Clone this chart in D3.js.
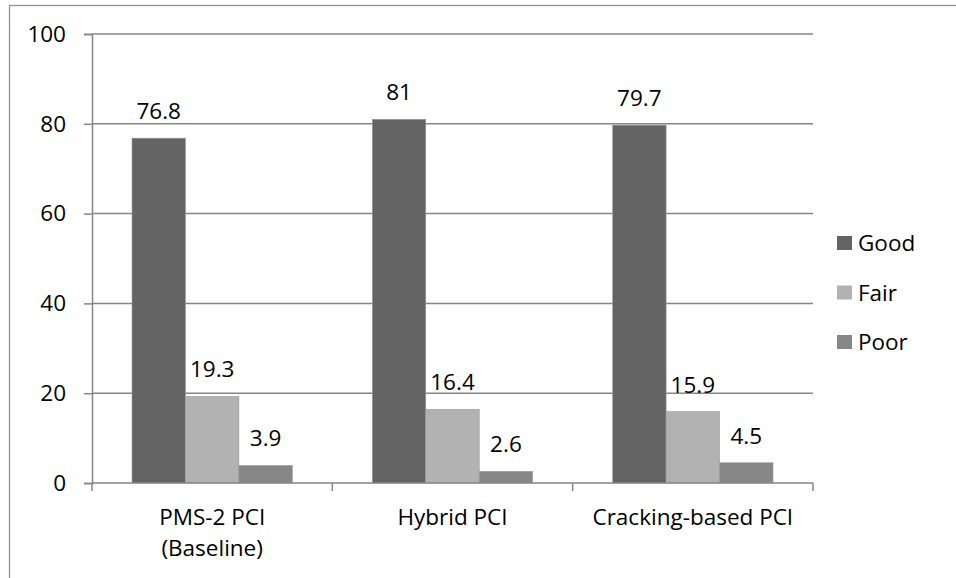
<!DOCTYPE html>
<html>
<head>
<meta charset="utf-8">
<script src="https://cdn.jsdelivr.net/npm/d3@7"></script>
<style>
  html, body { margin: 0; padding: 0; background: #fff; }
  svg { display: block; }
  text { font-family: "Open Sans", "Noto Sans", sans-serif; fill: #000; }
</style>
</head>
<body>
<svg id="chart" width="956" height="578"></svg>
<script>
// PCI condition distribution (%) by method
const categories = [["PMS-2 PCI", "(Baseline)"], ["Hybrid PCI"], ["Cracking-based PCI"]];
const seriesNames = ["Good", "Fair", "Poor"];
const good = [76.8, 81, 79.7];
const fair = [19.3, 16.4, 15.9];
const poor = [3.9, 2.6, 4.5];
const yTicks = [0, 20, 40, 60, 80, 100];
const seriesColors = ["#646464", "#b2b2b2", "#878787"];

const seriesValues = [good, fair, poor];
const fontSize = 22.5;
const svg = d3.select("#chart");

// outer frame (extends past the right and bottom edges of the canvas)
svg.append("rect")
  .attr("x", 9.5).attr("y", 5.5)
  .attr("width", 960).attr("height", 600)
  .attr("fill", "none").attr("stroke", "#8c8c8c").attr("stroke-width", 1.2);

const plot = { left: 92, right: 813, top: 34, bottom: 483 };

const x0 = d3.scaleBand()
  .domain(d3.range(categories.length))
  .range([plot.left, plot.right])
  .paddingInner(0).paddingOuter(0);

const groupPad = 40;
const x1 = d3.scaleBand()
  .domain(d3.range(seriesNames.length))
  .range([groupPad, x0.bandwidth() - groupPad]);

const y = d3.scaleLinear().domain([0, 100]).range([plot.bottom, plot.top]);

const gridColor = "#868686";

// horizontal gridlines
svg.append("g")
  .selectAll("line")
  .data(yTicks.filter(d => d > 0))
  .join("line")
  .attr("x1", plot.left).attr("x2", plot.right)
  .attr("y1", d => y(d)).attr("y2", d => y(d))
  .attr("stroke", gridColor).attr("stroke-width", 1.5);

// bars
const groups = svg.append("g")
  .selectAll("g")
  .data(categories.map((c, i) => i))
  .join("g")
  .attr("transform", i => `translate(${x0(i)},0)`);

groups.selectAll("rect")
  .data(i => seriesValues.map((vals, s) => ({ s, v: vals[i] })))
  .join("rect")
  .attr("x", d => x1(d.s))
  .attr("width", x1.bandwidth())
  .attr("y", d => y(d.v))
  .attr("height", d => y(0) - y(d.v))
  .attr("fill", d => seriesColors[d.s])
  .attr("stroke", "#9a9a9a").attr("stroke-width", 0.6);

// value labels
groups.selectAll("text")
  .data(i => seriesValues.map((vals, s) => ({ s, v: vals[i] })))
  .join("text")
  .attr("x", d => x1(d.s) + x1.bandwidth() / 2)
  .attr("y", d => y(d.v) - 19)
  .attr("text-anchor", "middle")
  .attr("font-size", fontSize)
  .text(d => d.v);

// y axis
const yAxis = d3.axisLeft(y).tickValues(yTicks).tickSize(8).tickPadding(18).tickFormat(d3.format("d"));
const yg = svg.append("g").attr("transform", `translate(${plot.left},0)`).call(yAxis);
yg.select(".domain").attr("stroke", gridColor).attr("stroke-width", 1.5);
yg.selectAll(".tick line").attr("stroke", gridColor).attr("stroke-width", 1.5);
yg.selectAll(".tick text").attr("font-size", fontSize).attr("font-family", "\"Open Sans\", sans-serif").attr("fill", "#000");

// x axis baseline with category boundary ticks
svg.append("line")
  .attr("x1", plot.left).attr("x2", plot.right)
  .attr("y1", y(0)).attr("y2", y(0))
  .attr("stroke", gridColor).attr("stroke-width", 1.5);

svg.append("g")
  .selectAll("line")
  .data(d3.range(categories.length + 1))
  .join("line")
  .attr("x1", i => plot.left + i * x0.bandwidth())
  .attr("x2", i => plot.left + i * x0.bandwidth())
  .attr("y1", y(0)).attr("y2", y(0) + 8)
  .attr("stroke", gridColor).attr("stroke-width", 1.5);

// category labels
svg.append("g")
  .selectAll("text")
  .data(categories.map((c, i) => ({ c, i })))
  .join("text")
  .attr("x", d => x0(d.i) + x0.bandwidth() / 2)
  .attr("y", 525)
  .attr("text-anchor", "middle")
  .attr("font-size", fontSize)
  .selectAll("tspan")
  .data(d => d.c.map((line, k) => ({ line, k, x: x0(d.i) + x0.bandwidth() / 2 })))
  .join("tspan")
  .attr("x", d => d.x)
  .attr("dy", d => d.k === 0 ? 0 : 31)
  .text(d => d.line);

// legend
const legend = svg.append("g")
  .selectAll("g")
  .data(seriesNames.map((n, i) => ({ n, i })))
  .join("g")
  .attr("transform", d => `translate(837,${236 + d.i * 49.5})`);

legend.append("rect")
  .attr("width", 15).attr("height", 14)
  .attr("fill", d => seriesColors[d.i]);

legend.append("text")
  .attr("x", 21).attr("y", 15)
  .attr("font-size", fontSize)
  .text(d => d.n);
</script>
</body>
</html>
